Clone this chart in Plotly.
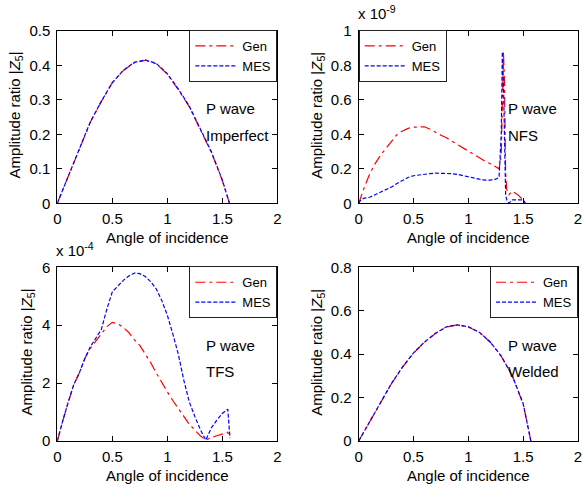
import plotly.graph_objects as go

# ---------------- data ----------------
# Panel 1: P wave, Imperfect
x_imp = [0, 0.05, 0.1, 0.2, 0.3, 0.4, 0.5, 0.6, 0.7, 0.8, 0.9, 1.0, 1.1, 1.2, 1.3, 1.4, 1.5, 1.565]
gen_imp = [0, 0.04, 0.08, 0.16, 0.235, 0.295, 0.35, 0.385, 0.408, 0.415, 0.405, 0.375, 0.33, 0.28, 0.215, 0.148, 0.066, 0]
mes_imp = [0, 0.04, 0.08, 0.16, 0.236, 0.296, 0.35, 0.386, 0.409, 0.416, 0.406, 0.376, 0.332, 0.282, 0.218, 0.15, 0.068, 0]

# Panel 2: P wave, NFS  (values x 1e-9)
x_nfs = [0, 0.02, 0.05, 0.1, 0.15, 0.2, 0.25, 0.3, 0.35, 0.4, 0.45, 0.5, 0.55, 0.6, 0.65, 0.7, 0.75, 0.8,
         0.85, 0.9, 0.95, 1.0, 1.05, 1.1, 1.15, 1.2, 1.25, 1.28, 1.30, 1.31, 1.32, 1.33, 1.34, 1.35, 1.37,
         1.40, 1.45, 1.50, 1.52]
gen_nfs = [0, 0.04, 0.09, 0.17, 0.23, 0.28, 0.32, 0.36, 0.40, 0.42, 0.435, 0.442, 0.445, 0.444, 0.43, 0.41,
           0.395, 0.38, 0.36, 0.345, 0.325, 0.30, 0.28, 0.26, 0.245, 0.23, 0.21, 0.2, 0.28, 0.60, 0.88, 0.70,
           0.18, 0.08, 0.05, 0.07, 0.05, 0.02, 0.0]
mes_nfs = [0, 0.02, 0.03, 0.035, 0.05, 0.065, 0.08, 0.095, 0.115, 0.135, 0.15, 0.16, 0.165, 0.17, 0.172,
           0.175, 0.175, 0.175, 0.172, 0.168, 0.16, 0.152, 0.145, 0.14, 0.135, 0.135, 0.14, 0.15, 0.40, 0.88,
           0.70, 0.30, 0.05, 0.02, 0.0, 0.02, 0.02, 0.02, 0.0]

# Panel 3: P wave, TFS  (values x 1e-4)
x_tfs = [0, 0.02, 0.05, 0.1, 0.15, 0.2, 0.25, 0.3, 0.35, 0.4, 0.45, 0.5, 0.55, 0.6, 0.65, 0.7, 0.75, 0.8,
         0.85, 0.9, 0.95, 1.0, 1.05, 1.1, 1.15, 1.2, 1.25, 1.3, 1.35, 1.4, 1.45, 1.5, 1.55, 1.57]
gen_tfs = [0, 0.25, 0.7, 1.35, 1.95, 2.35, 2.85, 3.2, 3.45, 3.72, 3.95, 4.1, 4.05, 3.92, 3.75, 3.5, 3.3, 3.0,
           2.7, 2.35, 2.0, 1.7, 1.4, 1.12, 0.82, 0.58, 0.38, 0.18, 0.03, 0.12, 0.18, 0.24, 0.3, 0.12]
mes_tfs = [0, 0.25, 0.7, 1.35, 1.95, 2.35, 2.85, 3.25, 3.55, 3.85, 4.55, 5.15, 5.35, 5.55, 5.7, 5.8, 5.78,
           5.68, 5.5, 5.25, 4.85, 4.35, 3.7, 3.0, 2.1, 1.35, 0.85, 0.4, 0.03, 0.45, 0.72, 0.95, 1.1, 0.1]

# Panel 4: P wave, Welded
x_wel = [0, 0.1, 0.2, 0.3, 0.4, 0.5, 0.6, 0.7, 0.8, 0.9, 1.0, 1.1, 1.2, 1.3, 1.4, 1.5, 1.57]
gen_wel = [0, 0.09, 0.18, 0.265, 0.34, 0.405, 0.455, 0.495, 0.525, 0.535, 0.525, 0.5, 0.455, 0.39, 0.3, 0.17, 0]
mes_wel = [0, 0.09, 0.18, 0.266, 0.341, 0.406, 0.456, 0.496, 0.526, 0.535, 0.526, 0.501, 0.456, 0.391, 0.302, 0.172, 0]

panel_labels = ["Imperfect", "NFS", "TFS", "Welded"]
y_ranges = [[0, 0.5], [0, 1], [0, 6], [0, 0.8]]
y_dticks = [0.1, 0.2, 2, 0.2]
x_ticks = [0, 0.5, 1, 1.5, 2]

# ---------------- layout helpers ----------------
W, H = 582, 485
FONT = "Arial, Liberation Sans, sans-serif"
FS = 15

def px(x):
    return x / W

def py(y):
    return 1 - y / H

# axis boxes in pixels: (left, right, top, bottom)
boxes = [(57.3, 277.3, 31, 203.3), (358.7, 578, 31, 203.3),
         (57.3, 277.3, 267.3, 441), (358.7, 578, 267.3, 441)]

series = [(x_imp, gen_imp, mes_imp), (x_nfs, gen_nfs, mes_nfs),
          (x_tfs, gen_tfs, mes_tfs), (x_wel, gen_wel, mes_wel)]

fig = go.Figure()
legend_names = ["legend", "legend2", "legend3", "legend4"]

for i, (xs, g, m) in enumerate(series):
    sfx = "" if i == 0 else str(i + 1)
    fig.add_trace(go.Scatter(x=xs, y=g, mode="lines", name="Gen",
                             line=dict(color="#ff0000", width=1.2, dash="10px,4px,3px,4px"),
                             xaxis="x" + sfx, yaxis="y" + sfx, legend=legend_names[i]))
    fig.add_trace(go.Scatter(x=xs, y=m, mode="lines", name="MES",
                             line=dict(color="#0000ff", width=1.2, dash="4px,2px"),
                             xaxis="x" + sfx, yaxis="y" + sfx, legend=legend_names[i]))

axis_common = dict(showline=True, linecolor="black", linewidth=1, mirror="ticks",
                   ticks="inside", ticklen=5, tickcolor="black", showgrid=False,
                   zeroline=False, ticklabeloverflow="allow",
                   tickfont=dict(family=FONT, size=FS, color="black"))

layout = dict(width=W, height=H, margin=dict(l=0, r=0, t=0, b=0, autoexpand=False),
              paper_bgcolor="white", plot_bgcolor="white",
              font=dict(family=FONT, size=FS, color="black"))

annotations = []
for i, (l, r, t, b) in enumerate(boxes):
    sfx = "" if i == 0 else str(i + 1)
    layout["xaxis" + sfx] = dict(axis_common, domain=[px(l), px(r)], range=[0, 2],
                                 tickvals=x_ticks, anchor="y" + sfx, ticklabelstandoff=2)
    layout["yaxis" + sfx] = dict(axis_common, domain=[py(b), py(t)], range=y_ranges[i],
                                 dtick=y_dticks[i], tick0=0, anchor="x" + sfx,
                                 ticklabelstandoff=3)
    leg = dict(bgcolor="white", bordercolor="#222222", borderwidth=1,
               font=dict(family=FONT, size=13, color="black"), itemwidth=42,
               yanchor="top", y=py(t - 1), tracegroupgap=0)
    if i == 1:
        leg.update(x=px(l), xanchor="left")
    else:
        leg.update(x=px(r), xanchor="right")
    layout[legend_names[i]] = leg

    # axis titles
    annotations.append(dict(text="Angle of incidence", xref="paper", yref="paper",
                            x=px((l + r) / 2), y=py(b + 34), xanchor="center", yanchor="middle",
                            showarrow=False, font=dict(family=FONT, size=FS)))
    ytx = l - (42 if i != 2 else 30)
    annotations.append(dict(text="Amplitude ratio |<i>Z</i><sub>5</sub>|", xref="paper", yref="paper",
                            x=px(ytx), y=py((t + b) / 2 - 2), xanchor="center", yanchor="middle",
                            textangle=-90, showarrow=False, font=dict(family=FONT, size=FS)))
    # panel labels
    annotations.append(dict(text="P wave", xref="paper", yref="paper", x=px(l + 147),
                            y=py(t + 78), xanchor="left", yanchor="middle", showarrow=False,
                            font=dict(family=FONT, size=FS)))
    annotations.append(dict(text=panel_labels[i], xref="paper", yref="paper", x=px(l + 147),
                            y=py(t + 104), xanchor="left", yanchor="middle", showarrow=False,
                            font=dict(family=FONT, size=FS)))

# exponent labels
annotations.append(dict(text="x 10<sup>-9</sup>", xref="paper", yref="paper", x=px(356),
                        y=py(24), xanchor="left", yanchor="bottom", showarrow=False,
                        font=dict(family=FONT, size=FS)))
annotations.append(dict(text="x 10<sup>-4</sup>", xref="paper", yref="paper", x=px(54),
                        y=py(261), xanchor="left", yanchor="bottom", showarrow=False,
                        font=dict(family=FONT, size=FS)))

layout["annotations"] = annotations
layout["showlegend"] = True
fig.update_layout(**layout)

fig.write_html("out.html", config={"displayModeBar": False},
               post_script="document.body.style.margin='0';document.body.style.overflow='hidden';")
